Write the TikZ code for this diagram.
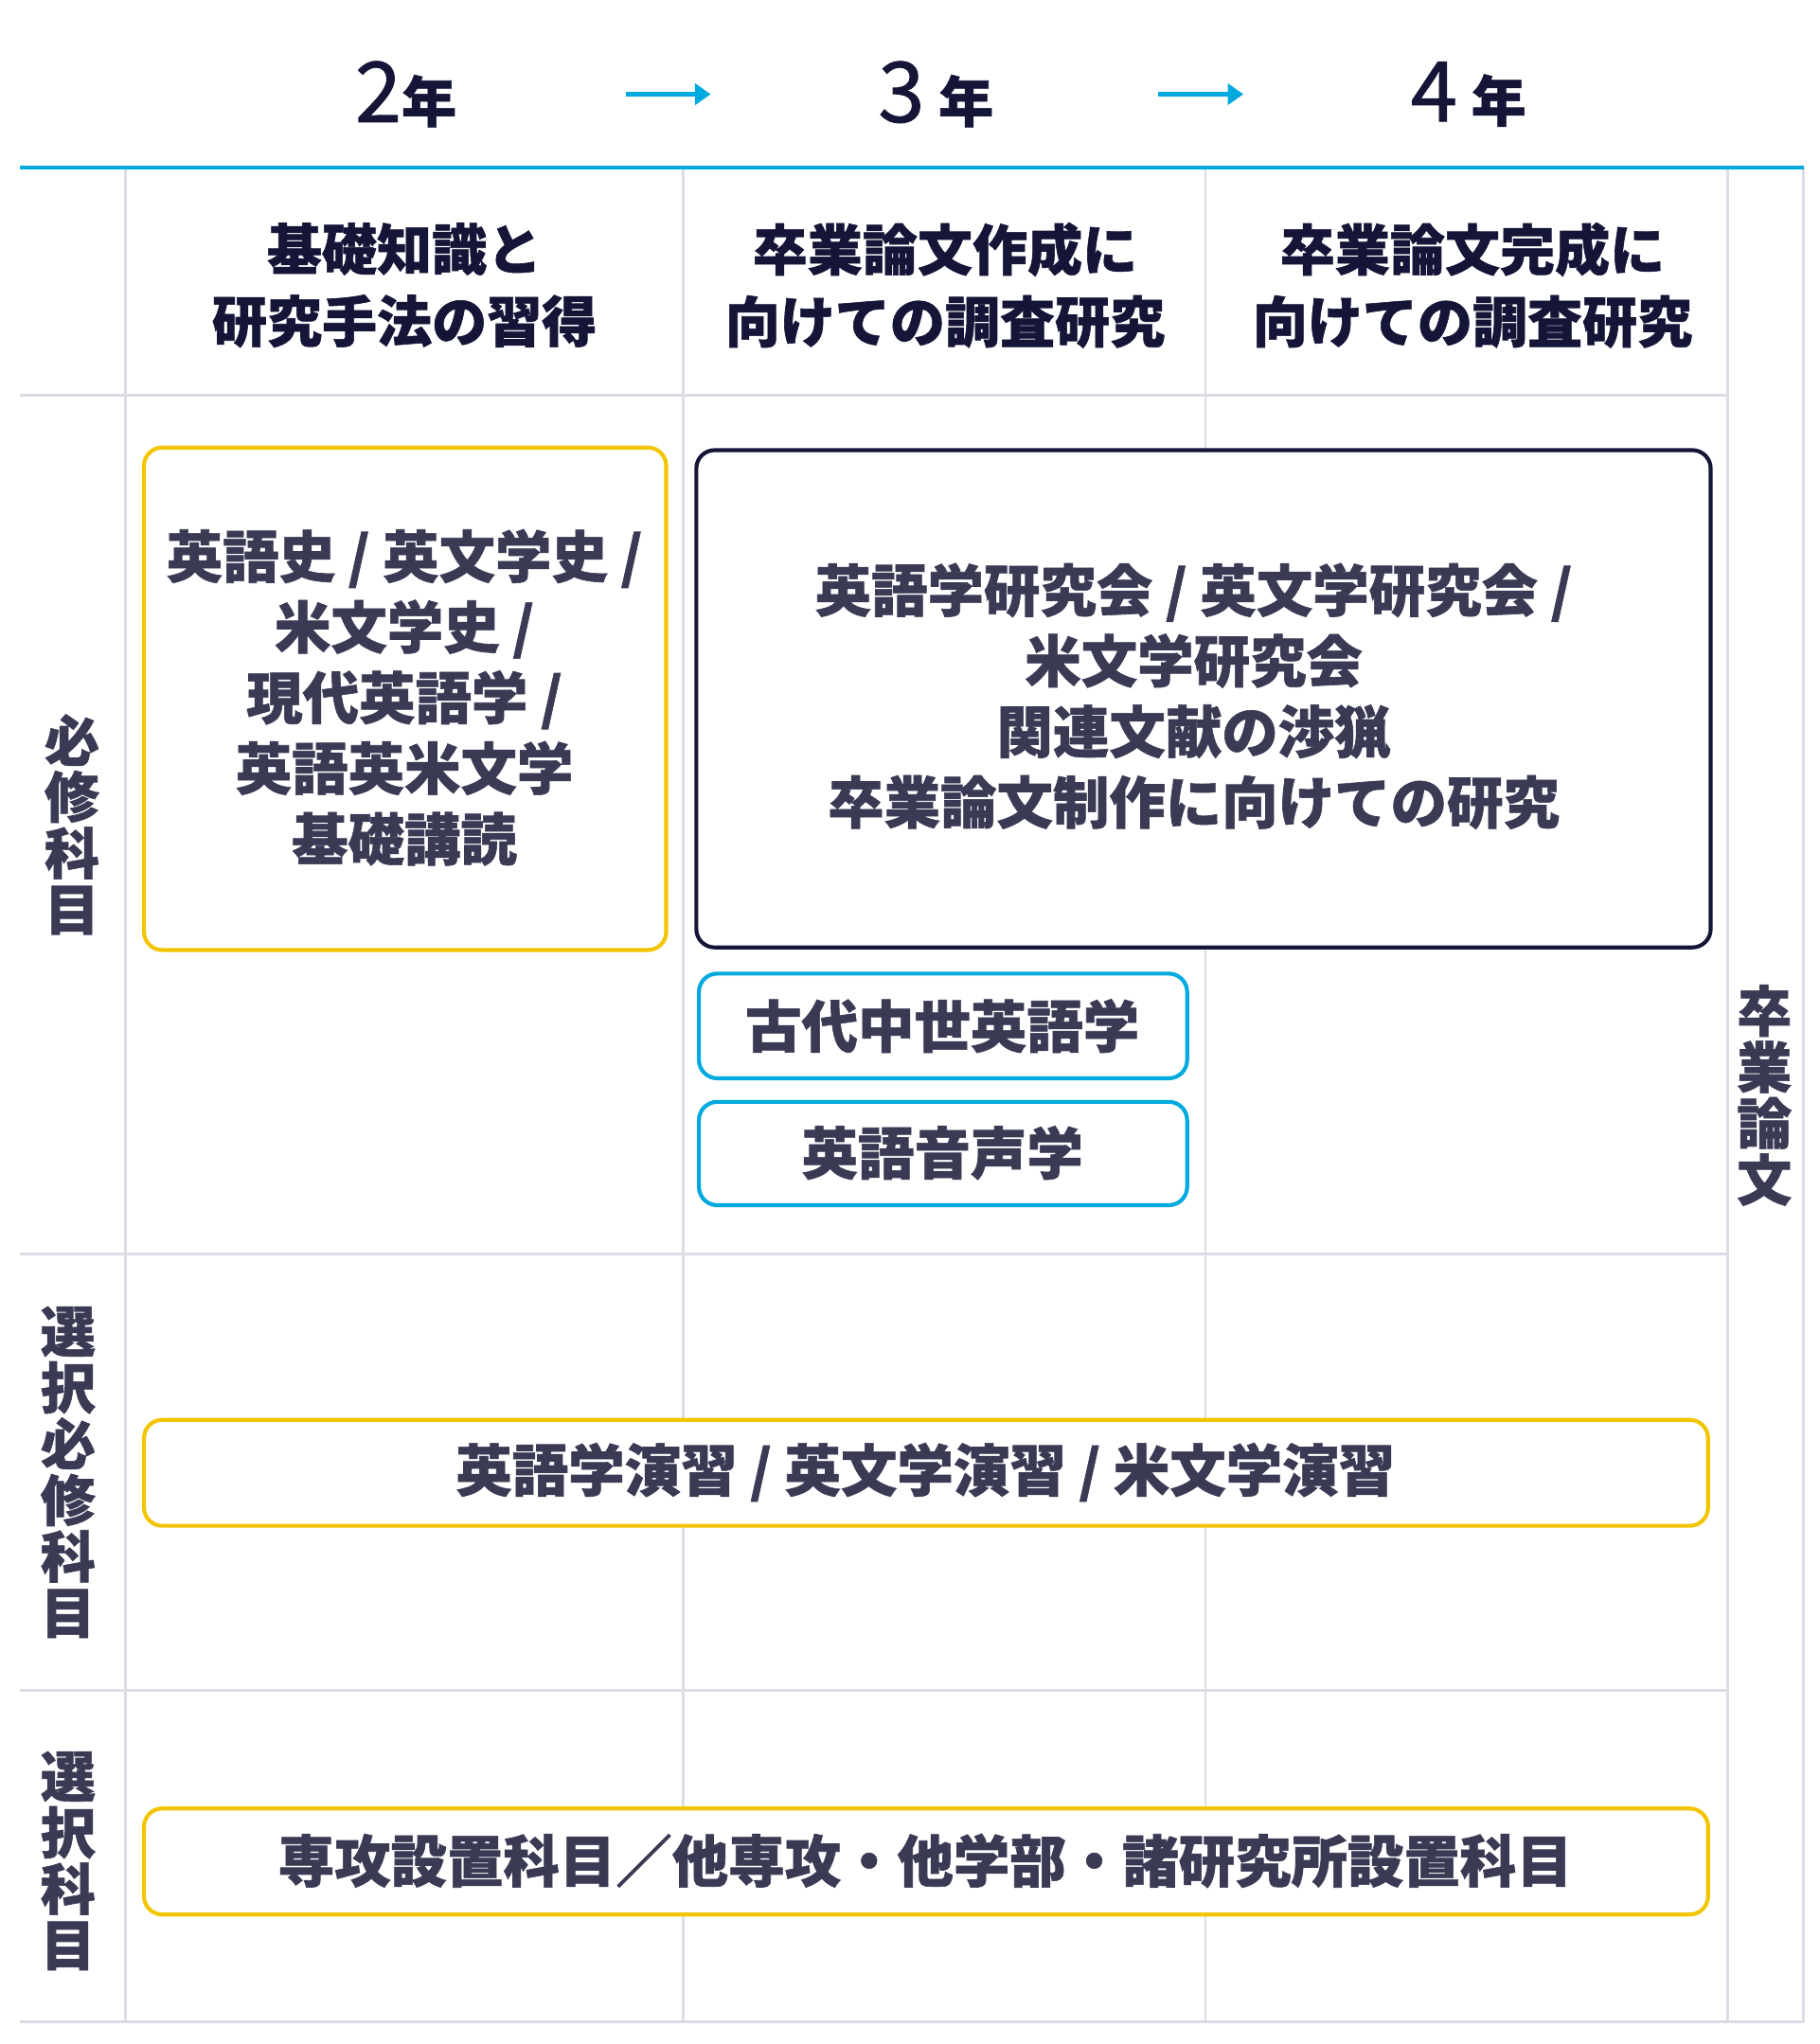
\documentclass[tikz,border=0pt]{standalone}
\usepackage{fontspec}
\setmainfont{Noto Sans CJK JP}[FakeBold=1]
\usetikzlibrary{arrows.meta}
\definecolor{grid}{HTML}{DCDCE6}
\definecolor{cyanc}{HTML}{00A9DE}
\definecolor{yel}{HTML}{F2C500}
\definecolor{navy}{HTML}{151538}
\definecolor{txt}{HTML}{3A3A55}
\tikzset{
 gridl/.style={grid,line width=2pt},
 body/.style={text=txt,font=\bfseries\fontsize{43}{54}\selectfont,align=center,inner sep=0},
 hd/.style={text=navy,font=\bfseries\fontsize{42}{55}\selectfont,align=center,inner sep=0},
 vert/.style={text=txt,font=\bfseries\fontsize{42}{43}\selectfont,align=center,inner sep=0},
 ybox/.style={draw=yel,fill=white,line width=3pt,rounded corners=14pt},
 cbox/.style={draw=cyanc,fill=white,line width=3pt,rounded corners=14pt},
 nbox/.style={draw=navy,fill=white,line width=3pt,rounded corners=14pt},
 yr/.style={text=navy,inner sep=0},
 arr/.style={cyanc,line width=3.5pt,-{Triangle[length=12pt,width=16pt]}}
}
\begin{document}
\begin{tikzpicture}[x=1pt,y=-1pt]
\useasboundingbox (0,0) rectangle (1390,1562);
\fill[white] (0,0) rectangle (1390,1562);
% grid
\draw[gridl] (96,128) -- (96,1545);
\draw[gridl] (522,128) -- (522,1545);
\draw[gridl] (921,128) -- (921,1545);
\draw[gridl] (1320,128) -- (1320,1545);
\draw[gridl] (1378,128) -- (1378,1545);
\draw[gridl] (15,302) -- (1320,302);
\draw[gridl] (15,958) -- (1320,958);
\draw[gridl] (15,1292) -- (1320,1292);
\draw[gridl] (15,1545) -- (1378,1545);
\draw[cyanc,line width=3pt] (15,128) -- (1378,128);
% years
\node[yr] (y2) at (310,72) {\mdseries\fontsize{64}{64}\selectfont 2\bfseries\fontsize{42}{42}\selectfont 年};
\node[yr] (y3) at (715,72) {\mdseries\fontsize{64}{64}\selectfont 3\,\bfseries\fontsize{42}{42}\selectfont 年};
\node[yr] (y4) at (1122,72) {\mdseries\fontsize{64}{64}\selectfont 4\,\bfseries\fontsize{42}{42}\selectfont 年};
\coordinate (a1s) at (478,72); \coordinate (a1e) at (543,72);
\coordinate (a2s) at (885,72); \coordinate (a2e) at (950,72);
\draw[arr] (a1s) -- (a1e);
\draw[arr] (a2s) -- (a2e);
% column headers
\node[hd] (h1) at (309,218) {基礎知識と\\研究手法の習得};
\node[hd] (h2) at (722,218) {卒業論文作成に\\向けての調査研究};
\node[hd] (h3) at (1125,218) {卒業論文完成に\\向けての調査研究};
% row labels
\node[vert] (r1) at (55,630) {必\\修\\科\\目};
\node[vert] (r2) at (52,1125) {選\\択\\必\\修\\科\\目};
\node[vert] (r3) at (52,1422) {選\\択\\科\\目};
\node[vert] (r4) at (1348,837) {卒\\業\\論\\文};
% boxes
\draw[ybox] (110,342) rectangle (509,726);
\node[body] (b1) at (309,533) {英語史\ /\ 英文学史\ /\\米文学史\ /\\現代英語学\ /\\英語英米文学\\基礎講読};
\draw[nbox] (532,344) rectangle (1307,724);
\node[body] (b2) at (912,532) {英語学研究会\ /\ 英文学研究会\ /\\米文学研究会\\関連文献の渉猟\\卒業論文制作に向けての研究};
\draw[cbox] (534,744) rectangle (907,824);
\node[body] (b3) at (720,784) {古代中世英語学};
\draw[cbox] (534,842) rectangle (907,921);
\node[body] (b4) at (720,881) {英語音声学};
\draw[ybox] (110,1085) rectangle (1305,1166);
\node[body] (b5) at (707,1125) {英語学演習\ /\ 英文学演習\ /\ 米文学演習};
\draw[ybox] (110,1382) rectangle (1305,1463);
\node[body] (b6) at (707,1422) {専攻設置科目／他専攻・他学部・諸研究所設置科目};
\end{tikzpicture}
\end{document}
